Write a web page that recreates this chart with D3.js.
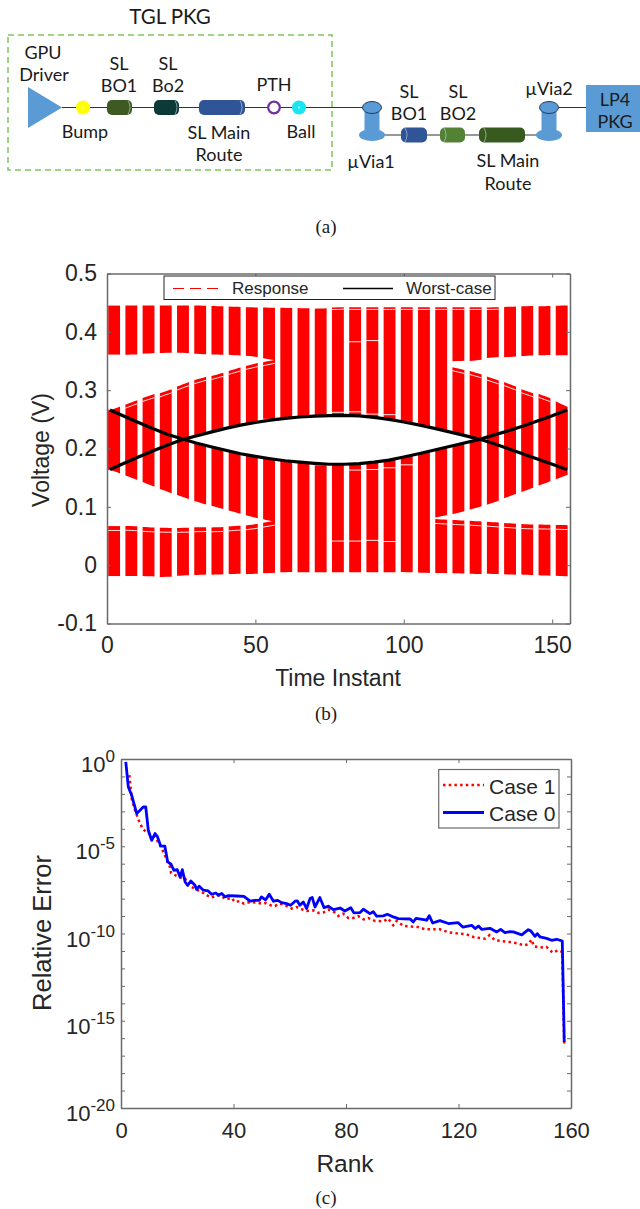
<!DOCTYPE html>
<html><head><meta charset="utf-8">
<script src="https://cdn.jsdelivr.net/npm/d3@7"></script>
<style>html,body{margin:0;padding:0;background:#fff}svg{display:block}</style>
</head><body><svg id="c" width="640" height="1209"></svg>
<script>
// ---------- panel (b) data ----------
const voltTicks=[-0.1,0,0.1,0.2,0.3,0.4,0.5];
const voltTickLabels=["-0.1","0","0.1","0.2","0.3","0.4","0.5"];
const timeTicks=[0,50,100,150];
const columnTimes=[2.4,8.2,14,19.8,25.6,31.4,37.2,43,48.8,54.6,60.4,66.2,72,77.8,83.6,89.4,95.2,101,106.8,112.6,118.4,124.2,130,135.8,141.6,147.4,153.2];
const outerTop=[.445,.445,.445,.445,.445,.445,.444,.443,.442,.4415,.441,.4405,.44,.442,.442,.442,.442,.442,.442,.442,.442,.442,.442,.443,.444,.444,.445];
const upperBottom=[.361,.361,.363,.364,.364,.362,.361,.36,.358,.353,null,null,null,null,null,null,null,null,null,null,.35,.351,.356,.357,.359,.36,.36];
const innerTop=[.268,.279,.29,.298,.31,.32,.327,.336,.344,.35,null,null,null,null,null,null,null,null,null,null,.337,.33,.32,.31,.298,.29,.276];
const innerBottom=[.161,.15,.1385,.127,.117,.107,.099,.091,.083,.0765,null,null,null,null,null,null,null,null,null,.0837,.09,.098,.107,.1185,.129,.14,.151];
const lowerTop=[.067,.067,.065,.064,.064,.065,.065,.067,.0695,.0745,null,null,null,null,null,null,null,null,null,.0785,.077,.0755,.0737,.0717,.07,.0695,.0688];
const lowerBottom=[-.0187,-.0187,-.019,-.02,-.0177,-.0165,-.016,-.015,-.015,-.0135,-.012,-.012,-.012,-.012,-.012,-.012,-.012,-.012,-.013,-.0135,-.014,-.015,-.015,-.016,-.0165,-.0177,-.0187];
const worstTimes=[1,5,10,15,20,25.7,30,35,40,45,50,55,60,65,70,75,80,85,90,95,100,105,110,115,120,125.6,130,135,140,145,150,155];
const worstRising=[.164,.173,.184,.195,.205,.2157,.2215,.228,.2345,.24,.2445,.2485,.2515,.254,.2555,.2565,.2568,.2558,.2535,.25,.2455,.2405,.235,.229,.223,.2157,.209,.2,.191,.182,.173,.164];
const worstFalling=[.266,.257,.246,.235,.225,.2157,.2095,.203,.197,.191,.1865,.1825,.179,.1765,.1745,.173,.173,.174,.1765,.18,.1855,.191,.197,.203,.209,.2157,.2225,.23,.238,.247,.256,.266];
const speckColumns=[13,14,15,16,14,15,13,14,15,16,11,12,14,15,16,17,10,9];
const speckVolts=[.0413,.0413,.0425,.0405,.383,.385,.262,.263,.259,.258,.176,.172,.163,.164,.167,.172,.251,.25];
// ---------- panel (c) data ----------
const rankTicks=[0,40,80,120,160];
const case0Ranks=[1.7,2.6,3.8,5.6,7.9,8.8,9.7,10.9,12.1,12.9,14.1,15.6,16.6,17.8,18.8,20,21,21.8,22.8,23.7,24.8,26.3,26.9,27.8,29.3,31,32.2,33.7,34.6,35.8,37,38.2,41.1,43.7,45.9,47.6,49.2,49.9,51.4,52.7,54.2,55.7,57.1,58.9,60.3,61.9,62.7,63.6,64.8,66,67.2,68,69,70.7,72.2,73.7,75.5,77.9,79.6,81.7,82.8,85,86.2,88.5,89.7,90.9,93.3,94.7,96.8,98.6,102.8,103.9,104.9,108.7,109.6,110.8,113.4,116.4,119.9,121.5,124.7,125.9,127.1,128.2,131.2,133.6,135,136.5,138.3,139.5,142.5,144.8,145.7,147.2,148,149,151.3,153.1,154.9,156.9,157.6];
const case0Exp=[-.16,-1.6,-2.08,-3.13,-2.75,-2.75,-4.08,-4.66,-4.27,-4.43,-4.98,-5,-5.9,-6.03,-6.38,-6.34,-6.76,-6.34,-7.05,-7.24,-6.99,-7.24,-7.47,-7.29,-7.52,-7.56,-7.75,-7.68,-7.81,-7.71,-7.9,-7.83,-7.85,-7.87,-8.15,-8.1,-8.1,-7.9,-8.08,-7.75,-8.15,-8.1,-8.23,-8.29,-8.38,-8.15,-8.13,-8.38,-8.19,-8.57,-8,-7.94,-8.48,-7.94,-8.52,-8.44,-8.63,-8.54,-8.71,-8.52,-8.82,-8.8,-8.61,-8.86,-8.75,-9.01,-8.99,-8.9,-9.05,-9.15,-9.17,-9.34,-9.13,-9.24,-8.98,-9.4,-9.26,-9.43,-9.38,-9.63,-9.53,-9.72,-9.57,-9.76,-9.7,-9.91,-9.76,-9.95,-9.89,-9.91,-10.08,-9.78,-9.85,-10.16,-10.01,-10.2,-10.28,-10.39,-10.33,-10.43,-16.22];
const case1Ranks=[2.96,3.8,5,6.5,7.7,8.9,12.1,14.5,15.6,17.4,17.8,20.4,22.8,24,26.9,29.3,31.9,33.4,35.2,37.3,39.3,40.5,42.1,43.7,45.9,48,50,51.4,53.2,54.8,56,57.7,60.7,62.4,63.6,66,68.4,70.2,71.9,73.7,76.1,77.3,79,80.8,82.6,84.4,86.2,87.9,90.3,93.3,95,96.8,98,100.4,105.7,108.1,113.4,116.4,120.5,122.9,125.3,129.4,131,133,138.3,141.3,143.1,144.8,146,146.8,149,151.3,153.5,155.5,156.9,157.6];
const case1Exp=[-.93,-2.27,-2.94,-3.6,-3.99,-4.18,-4.46,-5.13,-5.52,-6.19,-6.53,-6.76,-6.85,-7.24,-7.48,-7.68,-7.94,-7.87,-7.81,-8.04,-7.96,-8.19,-8.15,-8.29,-8.19,-8.23,-8.29,-8.25,-8.38,-8.42,-8.29,-8.33,-8.57,-8.48,-8.57,-8.71,-8.67,-8.82,-8.8,-8.63,-8.8,-8.99,-8.86,-9.11,-9.11,-9.01,-9.19,-9.11,-9.28,-9.3,-9.15,-9.53,-9.28,-9.57,-9.63,-9.76,-9.76,-9.93,-10.01,-10.05,-10.2,-10.3,-10.1,-10.39,-10.49,-10.58,-10.68,-10.62,-10.35,-10.73,-10.81,-10.77,-11.1,-10.96,-11.06,-16.41];
const decadeExps=[0,-1,-2,-3,-4,-5,-6,-7,-8,-9,-10,-11,-12,-13,-14,-15,-16,-17,-18,-19,-20];

const svg=d3.select("#c");
const SANS="'Liberation Sans',Arial,sans-serif", SERIF="'Liberation Serif','Times New Roman',serif", CAL="Lato,'Open Sans',sans-serif";
const AX="#6a6a6a", TXT="#262626";
function label(t,x,y,size,font,anchor,fill){return svg.append("text").attr("x",x).attr("y",y).attr("font-size",size).attr("font-family",font).attr("text-anchor",anchor||"middle").attr("dominant-baseline","central").attr("fill",fill||"#1a1a1a").text(t);}

// ---------- panel (a): schematic ----------
const a=svg.append("g");
a.append("rect").attr("x",8).attr("y",35).attr("width",324).attr("height",135).attr("fill","none").attr("stroke","#7fc35c").attr("stroke-width",1.5).attr("stroke-dasharray","6 4");
function wire(x1,y1,x2,y2){a.append("line").attr("x1",x1).attr("y1",y1).attr("x2",x2).attr("y2",y2).attr("stroke","#333").attr("stroke-width",1.1);}
wire(62,107.5,372,107.5); wire(372,135,549,135); wire(549,107.5,586,107.5);
a.append("path").attr("d",d3.line()([[28,87],[28,128],[62,107.5]])+"Z").attr("fill","#5b9bd5");
function dot(x,col,r){a.append("circle").attr("cx",x).attr("cy",107.5).attr("r",r).attr("fill",col);a.append("circle").attr("cx",x).attr("cy",107.5).attr("r",1).attr("fill","#fff");}
dot(83,"#ffff00",7); dot(299,"#19e6f0",7);
a.append("circle").attr("cx",274).attr("cy",107.5).attr("r",5.8).attr("fill","#fff").attr("stroke","#7030a0").attr("stroke-width",2.2);
function cyl(x1,x2,y,col,rim){a.append("rect").attr("x",x1).attr("y",y-7.5).attr("width",x2-x1).attr("height",15).attr("rx",5).attr("fill",col);
  a.append("path").attr("d",`M${rim},${y-7}q4,7 0,14`).attr("fill","none").attr("stroke","#cfd8e8").attr("stroke-width",.6);}
cyl(107,132,107.5,"#3c5a22",128); cyl(154,179,107.5,"#0b3a38",175); cyl(199,245,107.5,"#2f5597",240);
cyl(401,427,135,"#2f5597",405); cyl(440,465,135,"#548235",444); cyl(479,525,135,"#375a1f",484);
function via(x){a.append("ellipse").attr("cx",x).attr("cy",135).attr("rx",13).attr("ry",6).attr("fill","#5b9bd5");
  a.append("rect").attr("x",x-7.5).attr("y",108).attr("width",15).attr("height",26).attr("fill","#5b9bd5");
  a.append("ellipse").attr("cx",x).attr("cy",107.5).attr("rx",9.5).attr("ry",6).attr("fill","#5b9bd5").attr("stroke","#1f3a5f").attr("stroke-width",1);}
via(372); via(549);
a.append("rect").attr("x",586).attr("y",85).attr("width",54).attr("height",47).attr("fill","#5b9bd5");
[["TGL PKG",170,16,20.5],["GPU",43,52,18],["Driver",44,74,18],["SL",119,63,18],["BO1",119,85,18],["SL",168,63,18],["Bo2",168,85,18],["PTH",274,84,18],["Bump",85,131,18],["SL Main",219,132,18],["Route",219,154,18],["Ball",301,131,18],["SL",409,91,18],["BO1",409,113,18],["SL",458,91,18],["BO2",458,113,18],["µVia2",549,88,18],["µVia1",371,161,18],["SL Main",508,160,18],["Route",508,183,18],["LP4",615,99,18],["PKG",615,121,18]]
 .forEach(d=>label(d[0],d[1],d[2],d[3],CAL));
label("(a)",326,226,19,SERIF);

// ---------- panel (b) ----------
const bx=d3.scaleLinear().domain([0,156]).range([107,570]);
const by=d3.scaleLinear().domain([-0.1,0.5]).range([623.5,273.5]);
const rise=d3.scaleLinear().domain(worstTimes).range(worstRising);
const fall=d3.scaleLinear().domain(worstTimes).range(worstFalling);
const halfW=2.0;
function edge(arr,i,t){ // value of an envelope at time t inside column i, sloped toward its neighbours
  const v=arr[i]; let n=[];
  if(i>0&&arr[i-1]!=null) n.push((v-arr[i-1])/(columnTimes[i]-columnTimes[i-1]));
  if(i<arr.length-1&&arr[i+1]!=null) n.push((arr[i+1]-v)/(columnTimes[i+1]-columnTimes[i]));
  return v+(n.length?d3.mean(n):0)*(t-columnTimes[i]);
}
const band=d3.area().x(d=>bx(d.t)).y0(d=>by(d.lo)).y1(d=>by(d.hi));
const gb=svg.append("g"), gw=svg.append("g");
columnTimes.forEach((c,i)=>{
  const ts=d3.range(5).map(k=>c-halfW+k*halfW/2);
  const seg=(hi,lo)=>gb.append("path").attr("d",band(ts.map(t=>({t,hi:hi(t),lo:lo(t)})))).attr("fill","#ff0000");
  const val=arr=>t=>edge(arr,i,t);
  if(upperBottom[i]!=null){ seg(val(outerTop),val(upperBottom)); seg(val(innerTop),t=>rise(t)); }
  else seg(val(outerTop),t=>rise(t));
  if(innerBottom[i]!=null){ seg(t=>fall(t),val(innerBottom)); seg(val(lowerTop),val(lowerBottom)); }
  else seg(t=>fall(t),val(lowerBottom));
  // thin white traces inside the response columns
  const trace=(arr,off)=>gw.append("path").attr("d",d3.line().x(t=>bx(t)).y(t=>by(edge(arr,i,t)+off))(ts)).attr("fill","none").attr("stroke","#fff").attr("stroke-width",.9);
  if(innerTop[i]!=null&&i>0&&i<26) trace(innerTop,-.006);
  if(lowerTop[i]!=null) trace(lowerTop,-.0075);
  if(i>=13&&i<=22) trace(outerTop,-.0035);
});
speckColumns.forEach((k,j)=>{gw.append("line").attr("x1",bx(columnTimes[k]-2.9)).attr("x2",bx(columnTimes[k]+2.9)).attr("y1",by(speckVolts[j])).attr("y2",by(speckVolts[j])).attr("stroke","#fff").attr("stroke-width",.9);
});
const wl=d3.line().x((d,i)=>bx(worstTimes[i])).y(d=>by(d));
[worstRising,worstFalling].forEach(s=>svg.append("path").attr("d",wl(s)).attr("fill","none").attr("stroke","#000").attr("stroke-width",3.2));

function styleAxis(g,size){g.selectAll(".domain").attr("stroke",AX).attr("stroke-width",1.5);g.selectAll(".tick line").attr("stroke",AX).attr("stroke-width",1);
  g.selectAll("text").attr("font-family",SANS).attr("font-size",size).attr("fill",TXT);}
const bFmt=d=>voltTickLabels[voltTicks.findIndex(v=>Math.abs(v-d)<1e-9)];
styleAxis(svg.append("g").attr("transform","translate(0,623.5)").call(d3.axisBottom(bx).tickValues(timeTicks).tickFormat(d3.format("d")).tickSizeInner(-4).tickSizeOuter(0).tickPadding(13)),23);
styleAxis(svg.append("g").attr("transform","translate(0,273.5)").call(d3.axisTop(bx).tickValues(timeTicks).tickFormat("").tickSizeInner(-4).tickSizeOuter(0)),23);
styleAxis(svg.append("g").attr("transform","translate(107,0)").call(d3.axisLeft(by).tickValues(voltTicks).tickFormat(bFmt).tickSizeInner(-4).tickSizeOuter(0).tickPadding(10)),23);
styleAxis(svg.append("g").attr("transform","translate(570,0)").call(d3.axisRight(by).tickValues(voltTicks).tickFormat("").tickSizeInner(-4).tickSizeOuter(0)),23);
label("Time Instant",338,678,23,SANS,"middle",TXT);
label("Voltage (V)",0,0,23,SANS,"middle",TXT).attr("transform","translate(41,450) rotate(-90)");
svg.append("rect").attr("x",164).attr("y",276).attr("width",331).attr("height",23.5).attr("fill","#fff").attr("stroke","#222").attr("stroke-width",1);
svg.append("line").attr("x1",173).attr("x2",219).attr("y1",288.5).attr("y2",288.5).attr("stroke","#ff0000").attr("stroke-width",1.2).attr("stroke-dasharray","11 6");
svg.append("line").attr("x1",343).attr("x2",393).attr("y1",288.5).attr("y2",288.5).attr("stroke","#000").attr("stroke-width",1.5);
label("Response",232,288,17,SANS,"start",TXT); label("Worst-case",406,288,17,SANS,"start",TXT);
label("(b)",326,713,19,SERIF);

// ---------- panel (c) ----------
const cx=d3.scaleLinear().domain([0,160]).range([121,571]);
const cy=d3.scaleLog().domain([1e-20,1]).range([1108,759]);
const decades=decadeExps.map(e=>Math.pow(10,e));
const cLine=(ranks)=>d3.line().x((d,i)=>cx(ranks[i])).y(d=>cy(Math.pow(10,d)));
svg.append("path").attr("d",cLine(case1Ranks)(case1Exp)).attr("fill","none").attr("stroke","#ff0000").attr("stroke-width",2.5).attr("stroke-dasharray","2.5 3.2");
svg.append("path").attr("d",cLine(case0Ranks)(case0Exp)).attr("fill","none").attr("stroke","#0000ff").attr("stroke-width",2.8).attr("stroke-linejoin","round");
styleAxis(svg.append("g").attr("transform","translate(0,1108)").call(d3.axisBottom(cx).tickValues(rankTicks).tickFormat(d3.format("d")).tickSizeInner(-4).tickSizeOuter(0).tickPadding(14)),22);
styleAxis(svg.append("g").attr("transform","translate(0,759)").call(d3.axisTop(cx).tickValues(rankTicks).tickFormat("").tickSizeInner(-4).tickSizeOuter(0)),22);
styleAxis(svg.append("g").attr("transform","translate(121,0)").call(d3.axisLeft(cy).tickValues(decades).tickFormat("").tickSizeInner(-4).tickSizeOuter(0)),22);
styleAxis(svg.append("g").attr("transform","translate(571,0)").call(d3.axisRight(cy).tickValues(decades).tickFormat("").tickSizeInner(-4).tickSizeOuter(0)),22);
decadeExps.filter(e=>e%5===0).forEach(e=>{
  const t=svg.append("text").attr("x",115).attr("y",cy(Math.pow(10,e))+13).attr("text-anchor","end").attr("font-family",SANS).attr("fill",TXT);
  t.append("tspan").attr("font-size",22).text("10");
  t.append("tspan").attr("font-size",17).attr("dy",-10).text(String(e));
});
label("Rank",345,1163,24.5,SANS,"middle",TXT);
label("Relative Error",0,0,25.5,SANS,"middle",TXT).attr("transform","translate(42,933) rotate(-90)");
svg.append("rect").attr("x",438.7).attr("y",769.5).attr("width",120.3).attr("height",58.5).attr("fill","#fff").attr("stroke","#6a6a6a").attr("stroke-width",1.2);
svg.append("line").attr("x1",443).attr("x2",484).attr("y1",785).attr("y2",785).attr("stroke","#ff0000").attr("stroke-width",2.5).attr("stroke-dasharray","2.5 3.2");
svg.append("line").attr("x1",443).attr("x2",484).attr("y1",812.5).attr("y2",812.5).attr("stroke","#0000ff").attr("stroke-width",2.8);
label("Case 1",489,786,21,SANS,"start",TXT); label("Case 0",489,813,21,SANS,"start",TXT);
label("(c)",326,1197,19,SERIF);
</script></body></html>
